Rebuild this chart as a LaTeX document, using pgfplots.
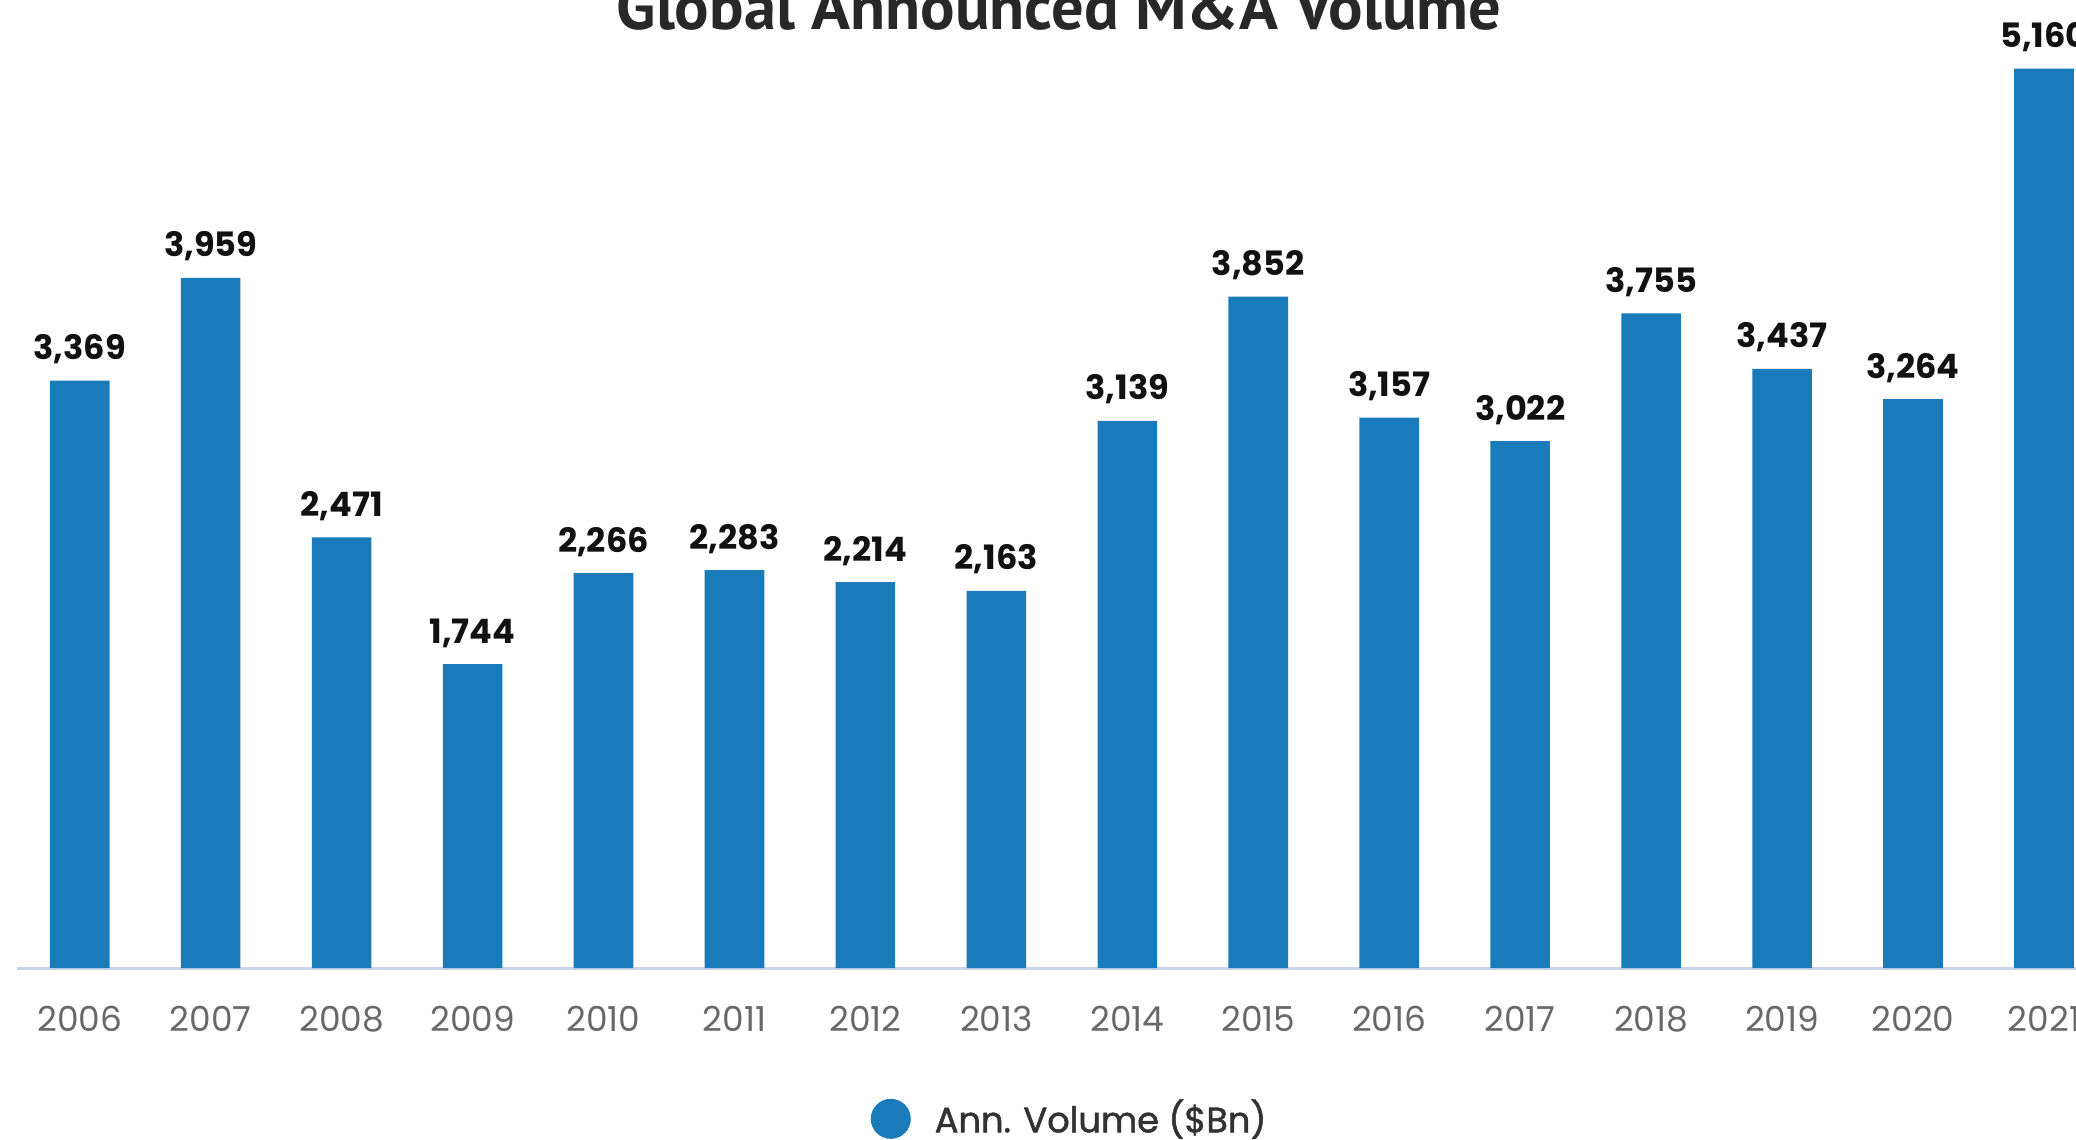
\documentclass[border=0pt]{standalone}
\usepackage{pgfplots}
\pgfplotsset{compat=1.18}
\usepackage{fontspec}
\setmainfont{Poppins}
\newfontfamily\titlefont{PT Sans}
\newfontfamily\legfont{Poppins}[FakeBold=1.5]
\definecolor{barcol}{RGB}{26,123,187}
\definecolor{axiscol}{RGB}{200,212,234}
\definecolor{tickcol}{RGB}{104,104,104}
\definecolor{labcol}{RGB}{17,17,17}
\definecolor{titlecol}{RGB}{40,40,40}
\definecolor{legcol}{RGB}{50,50,50}
\begin{document}
\begin{tikzpicture}
\path[use as bounding box, clip] (0pt,0pt) rectangle (519pt,-284.75pt);
\node[anchor=base, font=\titlefont\bfseries\fontsize{16.1}{19}\selectfont, text=titlecol] at (264.75pt,-7.25pt) {Global Announced M\&A Volume};
\begin{axis}[
  at={(19.925pt,-242pt)}, anchor=origin,
  x=32.7375pt, y=0.04358pt,
  xmin=-0.481, xmax=15.6, ymin=0, ymax=5600,
  enlargelimits=false,
  clip=false,
  axis x line*=bottom, axis y line=none,
  x axis line style={draw=axiscol, line width=0.75pt},
  xtick={0,...,15},
  xticklabels={2006,2007,2008,2009,2010,2011,2012,2013,2014,2015,2016,2017,2018,2019,2020,2021},
  major tick length=0pt,
  xticklabel style={anchor=base, yshift=-15.75pt, inner sep=0pt, text=tickcol, font=\fontsize{8.6}{10}\selectfont},
  ytick=\empty,
  ybar, bar width=14.9pt,
  nodes near coords,
  point meta=explicit symbolic,
  every node near coord/.append style={anchor=base, yshift=5.25pt, inner sep=0pt, text=labcol, font=\fontsize{8.4}{10}\selectfont\bfseries},
  legend image code/.code={\fill[barcol] (0pt,0pt) circle (5pt);},
  legend style={draw=none, fill=none, inner sep=0pt, at={(0.4052,-0.1545)}, anchor=west,
    font=\legfont\fontsize{8.8}{10}\selectfont, text=legcol,
    nodes={inner sep=0pt},
    /tikz/every odd column/.append style={column sep=6pt}},
  legend cell align=left,
]
\addplot[fill=barcol, draw=none] table[x=x, y=y, meta=lab] {
x y lab
0 3369 3,369
1 3959 3,959
2 2471 2,471
3 1744 1,744
4 2266 2,266
5 2283 2,283
6 2214 2,214
7 2163 2,163
8 3139 3,139
9 3852 3,852
10 3157 3,157
11 3022 3,022
12 3755 3,755
13 3437 3,437
14 3264 3,264
15 5160 5,160
};
\addlegendentry{Ann. Volume (\$Bn)}
\end{axis}
\end{tikzpicture}
\end{document}
